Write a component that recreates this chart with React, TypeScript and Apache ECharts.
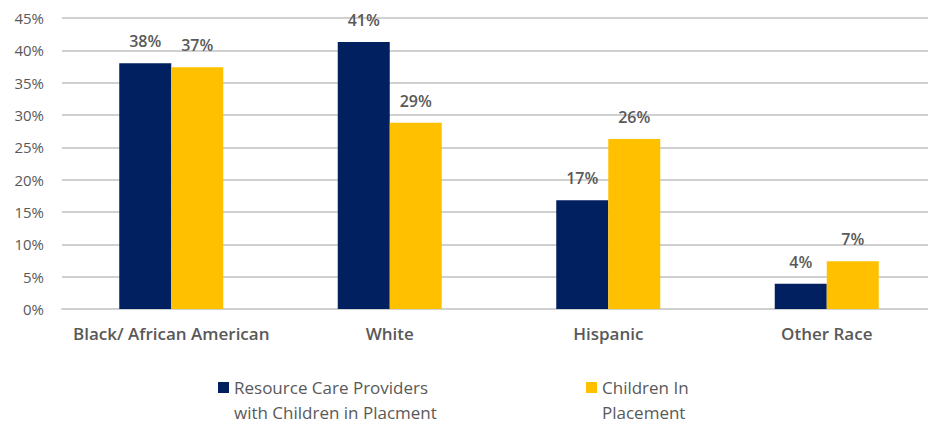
import React, { useEffect, useRef } from "react";
import * as echarts from "echarts";

const categories = ["Black/ African American", "White", "Hispanic", "Other Race"];
const providerValues = [38.0, 41.3, 16.8, 3.9];
const childrenValues = [37.4, 28.8, 26.3, 7.4];
const seriesNames = ["Resource Care Providers with Children in Placment", "Children In Placement"];
const legendLabels: Record<string, string> = {
  "Resource Care Providers with Children in Placment": "\nResource Care Providers\nwith Children in Placment",
  "Children In Placement": "\nChildren In\nPlacement",
};
const yTicks = { min: 0, max: 45, interval: 5 };

const FONT = "'Open Sans', 'Liberation Sans', Arial, sans-serif";
const GREY = "#595959";

export default function App() {
  const ref = useRef<HTMLDivElement>(null);
  useEffect(() => {
    if (!ref.current) return;
    const chart = echarts.init(ref.current, undefined, { renderer: "svg" });
    const labelCfg = {
      show: true,
      position: "top",
      distance: 14,
      color: GREY,
      fontFamily: FONT,
      fontSize: 16,
      fontWeight: 600,
      formatter: (p: any) => Math.round(p.value) + "%",
    };
    const legendBase = {
      orient: "horizontal",
      icon: "rect",
      itemWidth: 11,
      itemHeight: 11,
      padding: 0,
      top: 350,
      formatter: (n: string) => legendLabels[n] || n,
      textStyle: {
        color: GREY,
        fontFamily: FONT,
        fontSize: 17,
        lineHeight: 25,
      },
    };
    chart.setOption({
      animation: false,
      backgroundColor: "#ffffff",
      grid: { left: 62, right: -8, top: 18, bottom: 120, outerBoundsMode: "none" },
      legend: [
        { ...legendBase, left: 218, data: [seriesNames[0]] },
        { ...legendBase, left: 586, data: [seriesNames[1]] },
      ],
      xAxis: {
        type: "category",
        data: categories,
        axisTick: { show: false },
        axisLine: { show: true, lineStyle: { color: "#d0d0d0", width: 2 } },
        axisLabel: {
          interval: 0,
          color: GREY,
          fontFamily: FONT,
          fontSize: 17,
          fontWeight: 600,
          margin: 16,
        },
      },
      yAxis: {
        type: "value",
        min: yTicks.min,
        max: yTicks.max,
        interval: yTicks.interval,
        axisLine: { show: false },
        axisTick: { show: false },
        axisLabel: {
          color: GREY,
          fontFamily: FONT,
          fontSize: 15,
          margin: 18,
          formatter: "{value}%",
        },
        splitLine: { lineStyle: { color: "#d0d0d0", width: 2 } },
      },
      series: [
        {
          name: seriesNames[0],
          type: "bar",
          data: providerValues,
          barWidth: 52,
          barGap: "0%",
          itemStyle: { color: "#002060" },
          label: labelCfg,
        },
        {
          name: seriesNames[1],
          type: "bar",
          data: childrenValues,
          barWidth: 52,
          barGap: "0%",
          itemStyle: { color: "#FFC000" },
          label: labelCfg,
        },
      ],
    });
    return () => chart.dispose();
  }, []);
  return (
    <div
      ref={ref}
      style={{ position: "absolute", left: 0, top: 0, width: 928, height: 429, background: "#fff" }}
    />
  );
}
